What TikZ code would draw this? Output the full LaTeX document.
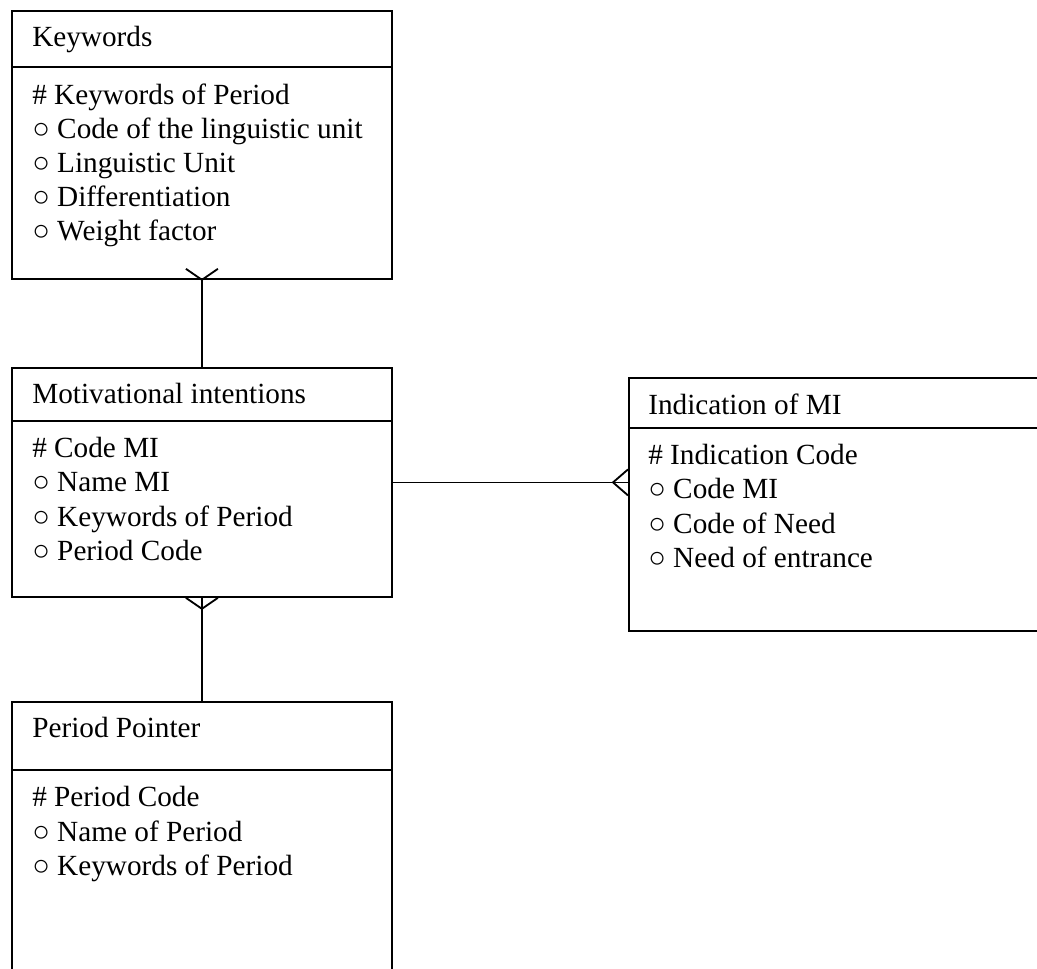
\documentclass[tikz,border=0pt]{standalone}
\usepackage{fontspec}
\setmainfont{Liberation Serif}
\begin{document}
\begin{tikzpicture}[
    entity/.style={
        draw, rectangle, line width=1.3pt, anchor=north west,
        minimum width=9.5cm
    },
    field/.style={
        anchor=north west, align=left, inner xsep=0.525cm, inner ysep=0.41cm,
        font=\fontsize{20.8pt}{24.2pt}\selectfont
    },
    link/.style={line width=1.3pt}
]
\path[use as bounding box, clip] (0,0) rectangle (25.925,-24.225);

\node[entity, minimum height=6.7cm] (keywords) at (0.275,-0.25) {};
\node[entity, minimum height=5.725cm] (motiv) at (0.275,-9.175) {};
\node[entity, minimum width=10.5cm, minimum height=6.325cm] (indication) at (15.7,-9.425) {};
\node[entity, minimum height=7cm] (period) at (0.275,-17.525) {};

\coordinate (kwsplit) at ([yshift=-1.425cm]keywords.north west);
\coordinate (motivsplit) at ([yshift=-1.35cm]motiv.north west);
\coordinate (indsplit) at ([yshift=-1.275cm]indication.north west);
\coordinate (persplit) at ([yshift=-1.725cm]period.north west);
\draw[link] (kwsplit) -- (kwsplit -| keywords.east);
\draw[link] (motivsplit) -- (motivsplit -| motiv.east);
\draw[link] (indsplit) -- (indsplit -| indication.east);
\draw[link] (persplit) -- (persplit -| period.east);

\node[field] (kwtitle) at (keywords.north west) {Keywords};
\node[field] (kwattr) at (kwsplit) {\# Keywords of Period\\○ Code of the linguistic unit\\○ Linguistic Unit\\○ Differentiation\\○ Weight factor};
\node[field] (motivtitle) at (motiv.north west) {Motivational intentions};
\node[field] (motivattr) at (motivsplit) {\# Code MI\\○ Name MI\\○ Keywords of Period\\○ Period Code};
\node[field, inner xsep=0.5cm] (indtitle) at (indication.north west) {Indication of MI};
\node[field, inner xsep=0.5cm] (indattr) at (indsplit) {\# Indication Code\\○ Code MI\\○ Code of Need\\○ Need of entrance};
\node[field] (pertitle) at (period.north west) {Period Pointer};
\node[field] (perattr) at (persplit) {\# Period Code\\○ Name of Period\\○ Keywords of Period};

\coordinate (indfoot) at (motiv.east -| indication.west);
\draw[link] (keywords.south) -- (motiv.north);
\draw[link] ([xshift=-0.4cm, yshift=0.275cm]keywords.south) -- (keywords.south) -- ([xshift=0.4cm, yshift=0.275cm]keywords.south);
\draw[link] (motiv.south) -- (period.north);
\draw[link] ([xshift=-0.4cm]motiv.south) -- ([yshift=-0.275cm]motiv.south) -- ([xshift=0.4cm]motiv.south);
\draw[link] (motiv.east) -- (indfoot);
\draw[link] ([yshift=0.325cm]indfoot) -- ([xshift=-0.375cm]indfoot) -- ([yshift=-0.325cm]indfoot);
\end{tikzpicture}
\end{document}
